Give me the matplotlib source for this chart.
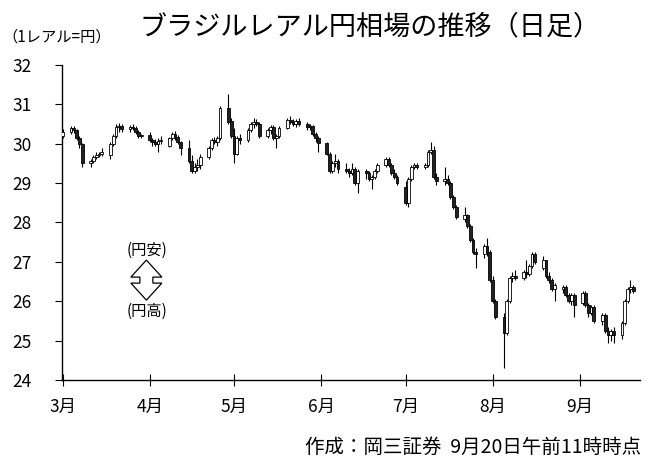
import matplotlib
matplotlib.use("Agg")
import matplotlib.pyplot as plt
import matplotlib.dates as mdates
from matplotlib.patches import Polygon
import pandas as pd
import numpy as np

plt.rcParams['font.family'] = ['Noto Sans CJK JP', 'DejaVu Sans']

# daily OHLC, BRL/JPY, weekdays 2024-03-01 .. 2024-09-20
dates = pd.bdate_range("2024-03-01", "2024-09-20")

opens = [
    # Mar
    30.20, 30.30, 30.40, 30.35, 30.15, 29.98, 29.52, 29.55, 29.65, 29.70, 29.75,
    29.70, 30.00, 30.20, 30.42, 30.45, 30.38, 30.42, 30.40, 30.30, 30.20,
    # Apr
    30.22, 30.10, 30.05, 30.00, 30.08, 29.95, 30.15, 30.25, 30.18, 30.05,
    29.90, 29.55, 29.30, 29.40, 29.45, 29.65, 29.90, 30.10, 30.05, 30.15, 30.90, 30.58,
    # May
    30.20, 29.75, 30.15, 30.10, 30.35, 30.50, 30.55, 30.50, 30.20, 30.35, 30.42, 30.15,
    30.20, 30.40, 30.60, 30.55, 30.50, 30.58, 30.50, 30.42, 30.45, 30.25, 30.15,
    # Jun
    30.02, 29.75, 29.30, 29.50, 29.55, 29.35, 29.30, 29.25, 29.35, 29.00,
    29.30, 29.25, 29.10, 29.15, 29.30, 29.45, 29.60, 29.45, 29.25, 29.15,
    # Jul
    28.90, 28.50, 29.10, 29.40, 29.45, 29.42, 29.45, 29.80, 29.85, 29.15, 29.05, 29.10,
    29.00, 28.65, 28.40, 28.10, 28.18, 27.90, 27.55, 27.25, 27.20, 27.40, 27.25,
    # Aug
    26.55, 26.00, 25.60, 25.20, 26.00, 26.60, 26.65, 26.60, 26.75, 26.70, 26.90,
    27.20, 26.85, 27.05, 26.65, 26.55, 26.30, 26.30, 26.35, 26.15, 26.00, 26.15,
    # Sep
    25.95, 26.20, 25.90, 25.70, 25.85, 25.50, 25.65, 25.25, 25.15, 25.25,
    25.15, 25.45, 26.00, 26.30, 26.35,
]
highs = [
    30.38, 30.45, 30.45, 30.38, 30.20, 30.02, 29.62, 29.70, 29.78, 29.80, 29.88,
    30.05, 30.25, 30.50, 30.52, 30.50, 30.48, 30.50, 30.45, 30.35, 30.25,
    30.30, 30.15, 30.12, 30.15, 30.20, 30.18, 30.30, 30.32, 30.22, 30.08,
    30.10, 29.70, 29.50, 29.60, 29.75, 29.95, 30.15, 30.18, 30.20, 30.95, 31.25, 30.65,
    30.40, 30.20, 30.25, 30.40, 30.55, 30.65, 30.62, 30.55, 30.40, 30.48, 30.48, 30.25,
    30.45, 30.65, 30.70, 30.62, 30.62, 30.65, 30.55, 30.50, 30.48, 30.30, 30.20,
    30.05, 29.80, 29.55, 29.75, 29.60, 29.50, 29.38, 29.50, 29.40, 29.35,
    29.35, 29.30, 29.20, 29.35, 29.50, 29.65, 29.65, 29.50, 29.35, 29.20,
    29.05, 29.15, 29.45, 29.50, 29.50, 29.50, 29.85, 30.05, 29.95, 29.25, 29.40, 29.20,
    29.05, 28.70, 28.45, 28.40, 28.22, 27.95, 27.60, 27.35, 27.45, 27.60, 27.30,
    26.65, 26.05, 25.70, 26.05, 26.65, 26.75, 26.80, 26.80, 27.05, 26.95, 27.25,
    27.25, 27.15, 27.05, 26.75, 26.60, 26.45, 26.40, 26.40, 26.20, 26.20, 26.20,
    26.25, 26.25, 25.95, 25.90, 25.90, 25.70, 25.70, 25.35, 25.30, 25.35,
    25.50, 26.05, 26.35, 26.55, 26.40,
]
lows = [
    30.15, 30.25, 30.28, 30.10, 29.90, 29.40, 29.40, 29.50, 29.60, 29.65, 29.68,
    29.62, 29.95, 30.15, 30.30, 30.30, 30.30, 30.35, 30.25, 30.15, 30.15,
    30.05, 29.95, 29.95, 29.80, 29.98, 29.92, 30.10, 30.10, 30.00, 29.70,
    29.50, 29.25, 29.25, 29.30, 29.35, 29.60, 29.85, 29.98, 29.95, 30.10, 30.50, 30.15,
    29.50, 29.70, 30.00, 30.05, 30.30, 30.40, 30.45, 30.15, 30.15, 30.25, 30.10, 29.90,
    30.15, 30.38, 30.50, 30.45, 30.42, 30.45, 30.35, 30.35, 30.20, 30.05, 29.80,
    29.70, 29.25, 29.25, 29.40, 29.25, 29.25, 29.15, 29.20, 28.95, 28.75,
    29.10, 29.05, 28.85, 29.10, 29.25, 29.40, 29.40, 29.20, 29.10, 28.95,
    28.45, 28.40, 29.05, 29.35, 29.35, 29.35, 29.40, 29.75, 29.10, 28.95, 28.95, 28.95,
    28.60, 28.35, 28.10, 28.00, 27.85, 27.50, 27.20, 26.85, 27.10, 27.15, 26.50,
    25.95, 25.55, 24.30, 25.15, 25.95, 26.50, 26.55, 26.55, 26.60, 26.65, 26.85,
    26.95, 26.80, 26.60, 26.45, 26.25, 26.00, 26.20, 26.10, 25.95, 25.90, 25.60,
    25.90, 25.85, 25.60, 25.65, 25.45, 25.40, 25.20, 24.95, 25.00, 24.95,
    25.05, 25.40, 25.95, 26.20, 26.20,
]
closes = [
    30.30, 30.40, 30.35, 30.15, 29.98, 29.52, 29.55, 29.65, 29.70, 29.75, 29.78,
    30.00, 30.20, 30.42, 30.45, 30.38, 30.42, 30.40, 30.30, 30.20, 30.22,
    30.10, 30.05, 30.00, 30.08, 30.10, 30.15, 30.25, 30.18, 30.05, 29.90,
    29.55, 29.30, 29.40, 29.45, 29.65, 29.90, 30.10, 30.05, 30.15, 30.90, 30.55, 30.20,
    29.75, 30.15, 30.10, 30.35, 30.50, 30.55, 30.50, 30.20, 30.35, 30.42, 30.15, 30.20,
    30.40, 30.60, 30.55, 30.50, 30.58, 30.50, 30.42, 30.45, 30.25, 30.15, 30.02,
    29.75, 29.30, 29.50, 29.55, 29.35, 29.30, 29.25, 29.35, 29.00, 29.30,
    29.25, 29.10, 29.15, 29.30, 29.45, 29.60, 29.45, 29.25, 29.15, 29.00,
    28.50, 29.10, 29.40, 29.45, 29.42, 29.45, 29.80, 29.85, 29.15, 29.05, 29.10, 29.00,
    28.65, 28.40, 28.15, 28.18, 27.90, 27.55, 27.25, 27.20, 27.40, 27.25, 26.55,
    26.00, 25.60, 25.20, 26.00, 26.60, 26.65, 26.60, 26.75, 26.70, 26.90, 27.20,
    27.00, 27.05, 26.65, 26.55, 26.30, 26.40, 26.35, 26.15, 26.00, 26.15, 25.90,
    26.20, 25.90, 25.70, 25.85, 25.50, 25.65, 25.25, 25.15, 25.25, 25.15,
    25.45, 26.00, 26.30, 26.35, 26.25,
]

month_ticks = pd.date_range("2024-03-01", "2024-09-01", freq="MS")
month_labels = ["3月", "4月", "5月", "6月", "7月", "8月", "9月"]

o = np.array(opens); h = np.array(highs); l = np.array(lows); c = np.array(closes)
x = mdates.date2num(dates)
up = c >= o

fig = plt.figure(figsize=(6.52, 4.57), dpi=100)
ax = fig.add_axes([0.095, 0.1685, 0.887, 0.6895])

# wicks then bodies
ax.vlines(x, l, h, color="black", linewidth=0.8, zorder=2)
ax.bar(x[up], (c - o)[up], bottom=o[up], width=1.0, color="white",
       edgecolor="black", linewidth=0.6, zorder=3)
ax.bar(x[~up], (o - c)[~up], bottom=c[~up], width=1.0, color="#222222",
       edgecolor="black", linewidth=0.6, zorder=3)

ax.set_ylim(24, 32)
ax.set_yticks(range(24, 33))
ax.set_xlim(mdates.date2num(pd.Timestamp("2024-03-01")) - 0.2,
            mdates.date2num(pd.Timestamp("2024-09-22")) + 0.5)
ax.set_xticks(mdates.date2num(month_ticks))
ax.set_xticklabels(month_labels)

for s in ["top", "right"]:
    ax.spines[s].set_visible(False)
ax.spines["left"].set_linewidth(1.0)
ax.spines["bottom"].set_linewidth(1.0)
ax.tick_params(axis="y", direction="out", length=5, pad=17, labelsize=12.5)
ax.tick_params(axis="x", direction="inout", length=8, pad=9, labelsize=12.5)

# labels
fig.text(0.568, 0.941, "ブラジルレアル円相場の推移（日足）", ha="center", va="center", fontsize=19.5)
fig.text(0.004, 0.918, "（1レアル=円）", ha="left", va="center", fontsize=11)
fig.text(0.983, 0.020, "作成：岡三証券  9月20日午前11時時点", ha="right", va="center", fontsize=14)

ax.text(0.147, 0.413, "(円安)", transform=ax.transAxes, ha="center", va="center", fontsize=11)
ax.text(0.147, 0.219, "(円高)", transform=ax.transAxes, ha="center", va="center", fontsize=11)

# hollow up/down arrow (pixel offsets around its centre)
ax_w, ax_h = 578.0, 315.0
cx, cy = 0.146, 0.317
shape = [(0, 20), (15.5, 3), (6.5, 3), (6.5, -3), (15.5, -3), (0, -20),
         (-15.5, -3), (-6.5, -3), (-6.5, 3), (-15.5, 3)]
pts = [(cx + dx / ax_w, cy + dy / ax_h) for dx, dy in shape]
ax.add_patch(Polygon(pts, closed=True, transform=ax.transAxes, fc="white",
                     ec="black", lw=0.9, zorder=4))

fig.savefig("out.png", dpi=100)
